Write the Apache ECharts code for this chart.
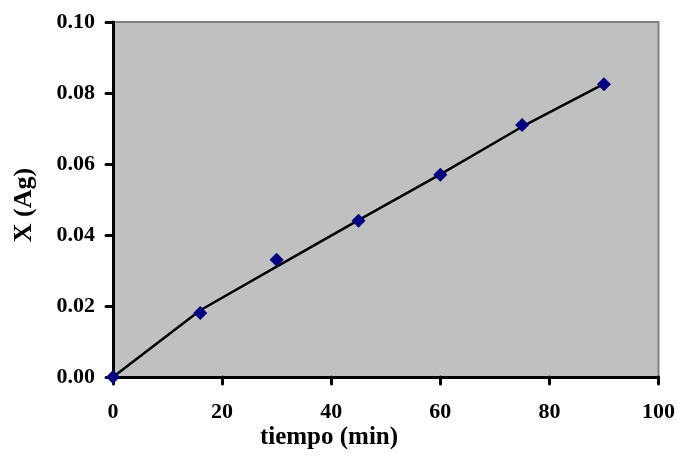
<!DOCTYPE html>
<html>
<head>
<meta charset="utf-8">
<script src="https://cdn.jsdelivr.net/npm/echarts@6/dist/echarts.min.js"></script>
<style>
  html, body { margin: 0; padding: 0; background: #fff; }
  #box { width: 678px; height: 459px; }
</style>
</head>
<body>
<div id="box"></div>
<script>
  // measured points
  const tiempo = [0, 16, 30, 45, 60, 75, 90]
  const xAg = [0, 0.018, 0.033, 0.044, 0.057, 0.071, 0.0825]
  // trend line
  const lineX = [0, 16, 30, 45, 60, 75, 90]
  const lineY = [0, 0.0188, 0.0311, 0.0442, 0.0571, 0.0705, 0.0826]
  const xTicks = [0, 20, 40, 60, 80, 100]
  const yTicks = [0, 0.02, 0.04, 0.06, 0.08, 0.10]

  const font = '"Liberation Serif", "Times New Roman", serif'
  let myChart = echarts.init(document.getElementById('box'))
  let option = {
    animation: false,
    grid: {
      left: 113, right: 18, top: 22, bottom: 82,
      show: true,
      backgroundColor: '#C0C0C0',
      borderColor: '#808080',
      borderWidth: 2
    },
    xAxis: {
      type: 'value',
      min: xTicks[0],
      max: xTicks[xTicks.length - 1],
      interval: 20,
      axisLine: { show: true, onZero: false, lineStyle: { color: '#000', width: 3 } },
      axisTick: { show: true, length: 7, lineStyle: { color: '#000', width: 3, cap: 'round' } },
      splitLine: { show: false },
      axisLabel: { margin: 24, color: '#000', fontFamily: font, fontWeight: 'bold', fontSize: 22 }
    },
    yAxis: {
      type: 'value',
      min: yTicks[0],
      max: yTicks[yTicks.length - 1],
      interval: 0.02,
      axisLine: { show: true, onZero: false, lineStyle: { color: '#000', width: 3 } },
      axisTick: { show: true, length: 7, lineStyle: { color: '#000', width: 3, cap: 'round' } },
      splitLine: { show: false },
      axisLabel: {
        margin: 18, color: '#000', fontFamily: font, fontWeight: 'bold', fontSize: 22,
        formatter: v => v.toFixed(2)
      }
    },
    graphic: [
      {
        type: 'text',
        x: 329, y: 438,
        style: { text: 'tiempo (min)', font: 'bold 25px ' + font, fill: '#000', align: 'center', verticalAlign: 'middle' }
      },
      {
        type: 'text',
        x: 24, y: 205, rotation: Math.PI / 2,
        style: { text: 'X (Ag)', font: 'bold 26px ' + font, fill: '#000', align: 'center', verticalAlign: 'middle' }
      }
    ],
    series: [
      {
        type: 'line',
        data: lineX.map((x, i) => [x, lineY[i]]),
        showSymbol: false,
        symbol: 'none',
        lineStyle: { color: '#000', width: 2.5 },
        z: 3
      },
      {
        type: 'scatter',
        data: tiempo.map((x, i) => [x, xAg[i]]),
        symbol: 'diamond',
        symbolSize: [14, 14],
        itemStyle: { color: '#000080', opacity: 1 },
        clip: false,
        z: 5
      }
    ]
  }
  myChart.setOption(option)
</script>
</body>
</html>
